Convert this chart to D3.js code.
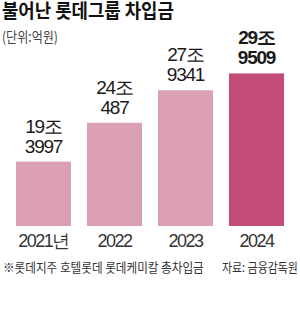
<!DOCTYPE html>
<html>
<head>
<meta charset="utf-8">
<script src="https://cdn.jsdelivr.net/npm/d3@7"></script>
<style>
  html, body { margin: 0; padding: 0; background: #fff; }
  svg { display: block; }
</style>
</head>
<body>
<div id="container"></div>
<script>
// Chart data (values in 조 for the scale)
const years = ["2021년", "2022", "2023", "2024"];
const values = [19.3997, 24.0487, 27.9341, 29.9509];
const labelTop = ["19조", "24조", "27조", "29조"];
const labelBottom = ["3997", "487", "9341", "9509"];

const width = 300;
const height = 323;
const baseY = 226;

const korFont = "'Noto Sans CJK KR', sans-serif";
const numFont = "'Liberation Sans', Arial, sans-serif";

const svg = d3.create("svg")
  .attr("width", width)
  .attr("height", height);

document.getElementById("container").append(svg.node());

// Korean text squeezed horizontally to a given width (the original face is condensed)
function narrowText(str, x0, y0, size, w, opts) {
  const g = svg.append("g");
  const t = g.append("text")
    .attr("font-family", korFont)
    .attr("font-size", size)
    .attr("font-weight", opts.bold ? "bold" : "normal")
    .attr("fill", opts.fill)
    .text(str);
  const natural = t.node().getComputedTextLength();
  g.attr("transform", "translate(" + x0 + "," + y0 + ") scale(" + (w / natural) + ",1)");
  return t;
}

// Title and unit
narrowText("불어난 롯데그룹 차입금", 2, 18, 19.5, 172, { bold: true, fill: "#111" });
narrowText("(단위:억원)", 2, 42, 14, 56, { fill: "#444" });

// Scales
const x = d3.scaleBand()
  .domain(years)
  .range([8, 292])
  .paddingInner(0.225)
  .paddingOuter(0.1125);

const y = d3.scaleLinear()
  .domain([11.7, 30])
  .range([baseY, 73]);

const cx = i => x(years[i]) + x.bandwidth() / 2;
const last = values.length - 1;

// Bars
svg.selectAll(".bar")
  .data(values)
  .enter().append("rect")
  .attr("class", "bar")
  .attr("x", (d, i) => x(years[i]))
  .attr("y", d => y(d))
  .attr("width", x.bandwidth())
  .attr("height", d => baseY - y(d))
  .attr("fill", (d, i) => i === last ? "#c24b77" : "#dba0b1");

// Value labels, two lines above each bar
svg.selectAll(".val-top")
  .data(values)
  .enter().append("text")
  .attr("class", "val-top")
  .attr("x", (d, i) => cx(i))
  .attr("y", d => y(d) - 29)
  .attr("text-anchor", "middle")
  .attr("font-family", numFont)
  .attr("font-size", 19)
  .attr("letter-spacing", -1.2)
  .attr("font-weight", (d, i) => i === last ? "bold" : "normal")
  .attr("fill", "#1a1a1a")
  .text((d, i) => labelTop[i]);

svg.selectAll(".val-bot")
  .data(values)
  .enter().append("text")
  .attr("class", "val-bot")
  .attr("x", (d, i) => cx(i))
  .attr("y", d => y(d) - 9)
  .attr("text-anchor", "middle")
  .attr("font-family", numFont)
  .attr("font-size", 19)
  .attr("letter-spacing", -1.2)
  .attr("font-weight", (d, i) => i === last ? "bold" : "normal")
  .attr("fill", "#1a1a1a")
  .text((d, i) => labelBottom[i]);

// Year labels
svg.selectAll(".year")
  .data(years)
  .enter().append("text")
  .attr("class", "year")
  .attr("x", d => x(d) + x.bandwidth() / 2)
  .attr("y", 247)
  .attr("text-anchor", "middle")
  .attr("font-family", numFont)
  .attr("font-size", 18)
  .attr("letter-spacing", -1.5)
  .attr("fill", "#333")
  .text(d => d);

// Footnote and source
narrowText("※롯데지주 호텔롯데 롯데케미칼 총차입금", 3, 272, 13, 201, { fill: "#333" });
narrowText("자료: 금융감독원", 222, 272, 13, 76, { fill: "#333" });
</script>
</body>
</html>
